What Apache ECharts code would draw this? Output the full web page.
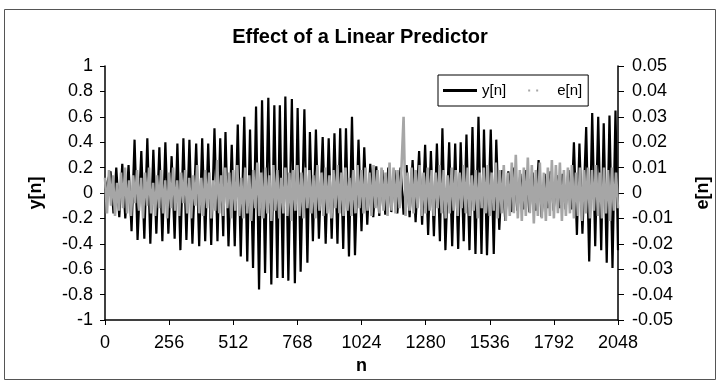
<!DOCTYPE html>
<html>
<head>
<meta charset="utf-8">
<script src="https://cdn.jsdelivr.net/npm/echarts@6/dist/echarts.min.js"></script>
<style>html,body{margin:0;background:#fff}#chart{width:720px;height:384px}</style>
</head>
<body>
<div id="chart"></div>
<script>
// y[n]: one positive peak per pitch period, trough half a period later
var yPeakN = [22, 45, 69, 94, 118, 145, 169, 193, 217, 241, 266, 289, 313, 337, 364, 388, 412, 437, 460, 481,
  506, 530, 556, 579, 603, 627, 652, 676, 698, 720, 746, 769, 796, 818, 842, 869, 893, 916, 939, 962,
  986, 1012, 1035, 1059, 1083, 1107, 1131, 1155, 1180, 1204, 1228, 1254, 1278, 1301, 1325, 1347, 1374, 1398, 1420, 1443,
  1467, 1491, 1513, 1540, 1562, 1586, 1610, 1634, 1658, 1682, 1707, 1731, 1755, 1779, 1803, 1827, 1850, 1872, 1894, 1921,
  1945, 1969, 1991, 2014, 2038];
var yPeakHi = [0.17, 0.20, 0.23, 0.22, 0.42, 0.33, 0.43, 0.34, 0.36, 0.40, 0.29, 0.39, 0.43, 0.42, 0.39, 0.43, 0.39, 0.51, 0.43, 0.48,
  0.38, 0.54, 0.60, 0.50, 0.68, 0.73, 0.75, 0.69, 0.69, 0.76, 0.74, 0.67, 0.66, 0.48, 0.50, 0.44, 0.43, 0.47, 0.51, 0.51,
  0.60, 0.42, 0.36, 0.23, 0.21, 0.18, 0.20, 0.18, 0.20, 0.22, 0.26, 0.33, 0.38, 0.33, 0.39, 0.51, 0.40, 0.39, 0.40, 0.46,
  0.52, 0.60, 0.50, 0.50, 0.42, 0.18, 0.17, 0.20, 0.15, 0.18, 0.16, 0.26, 0.15, 0.17, 0.14, 0.15, 0.18, 0.40, 0.39, 0.52,
  0.63, 0.60, 0.55, 0.61, 0.65];
var yPeakLo = [-0.16, -0.19, -0.20, -0.30, -0.37, -0.36, -0.40, -0.32, -0.38, -0.32, -0.36, -0.45, -0.37, -0.40, -0.42, -0.38, -0.41, -0.38, -0.34, -0.42,
  -0.42, -0.50, -0.54, -0.59, -0.76, -0.63, -0.72, -0.67, -0.67, -0.69, -0.71, -0.62, -0.55, -0.38, -0.36, -0.40, -0.36, -0.40, -0.44, -0.50,
  -0.49, -0.30, -0.25, -0.19, -0.18, -0.17, -0.15, -0.16, -0.17, -0.19, -0.23, -0.25, -0.33, -0.34, -0.38, -0.45, -0.42, -0.44, -0.38, -0.45,
  -0.48, -0.48, -0.49, -0.48, -0.29, -0.22, -0.15, -0.14, -0.13, -0.15, -0.14, -0.19, -0.12, -0.14, -0.12, -0.13, -0.13, -0.33, -0.32, -0.54,
  -0.42, -0.45, -0.55, -0.59, -0.45];

// e[n]: prediction error, one value every 8 samples
var eStep = 8;
var eVals = [
  0.006, -0.008, 0.009, -0.005, 0.007, -0.009, 0.004, -0.007, 0.008, -0.006, 0.010, -0.008, 0.005, -0.009, 0.007, -0.004,
  0.009, -0.007, 0.006, -0.010, 0.008, -0.005, 0.010, -0.008, 0.004, -0.009, 0.007, -0.006, 0.009, -0.008, 0.005, -0.010,
  0.008, -0.006, 0.010, -0.007, 0.005, -0.009, 0.008, -0.004, 0.009, -0.008, 0.006, -0.010, 0.007, -0.005, 0.011, -0.008,
  0.006, -0.009, 0.009, -0.006, 0.008, -0.010, 0.005, -0.007, 0.013, -0.008, 0.007, -0.009, 0.010, -0.006, 0.008, -0.010,
  0.009, -0.007, 0.011, -0.009, 0.006, -0.010, 0.010, -0.008, 0.007, -0.011, 0.009, -0.006, 0.012, -0.009, 0.008, -0.010,
  0.010, -0.008, 0.007, -0.011, 0.011, -0.007, 0.009, -0.010, 0.006, -0.008, 0.010, -0.009, 0.008, -0.011, 0.009, -0.007,
  0.011, -0.009, 0.008, -0.010, 0.010, -0.006, 0.009, -0.008, 0.007, -0.010, 0.011, -0.007, 0.008, -0.009, 0.010, -0.008,
  0.007, -0.010, 0.009, -0.006, 0.011, -0.008, 0.008, -0.009, 0.010, -0.007, 0.006, -0.009, 0.009, -0.008, 0.011, -0.006,
  0.009, -0.008, 0.010, -0.007, 0.008, -0.009, 0.011, -0.006, 0.009, -0.008, 0.010, -0.007, 0.008, -0.009, 0.012, -0.007,
  0.010, -0.008, 0.009, -0.006, 0.011, 0.030, -0.009, 0.008, -0.007, 0.010, -0.008, 0.009, -0.006, 0.011, -0.009, 0.008,
  -0.008, 0.010, -0.007, 0.009, -0.009, 0.008, -0.006, 0.011, -0.008, 0.009, -0.010, 0.007, -0.008, 0.010, -0.007, 0.009,
  -0.009, 0.008, -0.006, 0.011, -0.008, 0.010, -0.009, 0.007, -0.007, 0.009, -0.010, 0.008, -0.006, 0.010, -0.008, 0.011,
  -0.009, 0.008, -0.007, 0.012, -0.010, 0.009, -0.008, 0.011, -0.011, 0.008, -0.009, 0.012, -0.008, 0.015, -0.010, 0.009,
  -0.011, 0.010, -0.009, 0.014, -0.008, 0.011, -0.012, 0.009, -0.009, 0.012, -0.010, 0.008, -0.011, 0.010, -0.009, 0.013,
  -0.010, 0.011, -0.008, 0.012, -0.011, 0.009, -0.009, 0.010, -0.008, 0.011, -0.010, 0.008, -0.009, 0.010, -0.011, 0.009,
  -0.008, 0.010, -0.010, 0.009, -0.007, 0.011, -0.009, 0.008, -0.010, 0.010, -0.008, 0.009, -0.011, 0.010, -0.007, 0.008,
  -0.006
];

var yData = [[0, 0.02]];
for (var i = 0; i < yPeakN.length; i++) {
  yData.push([yPeakN[i], yPeakHi[i]]);
  yData.push([Math.min(yPeakN[i] + 12, 2048), yPeakLo[i]]);
}
var eData = eVals.map(function (v, i) { return [i * eStep, v]; });

var font = "'Liberation Sans', Arial, sans-serif";
var myChart = echarts.init(document.getElementById('chart'));
var option = {
  backgroundColor: '#fff',
  animation: false,
  title: {
    text: 'Effect of a Linear Predictor',
    left: 'center',
    top: 22,
    textStyle: { fontFamily: font, fontSize: 20, fontWeight: 'bold', color: '#000' }
  },
  legend: {
    orient: 'horizontal',
    left: 438,
    top: 75,
    itemWidth: 34,
    itemHeight: 3,
    itemGap: 12,
    padding: [8, 6, 8, 5],
    borderColor: '#000',
    borderWidth: 1,
    borderRadius: 0,
    backgroundColor: '#fff',
    textStyle: { fontFamily: font, fontSize: 15, color: '#000' },
    data: [
      { name: 'y[n]', icon: 'rect' },
      { name: 'e[n]', icon: 'path://M0,0h0.01v2h-0.01zM10,0h2v2h-2zM18,0h2v2h-2zM34,0h0.01v2h-0.01z' }
    ]
  },
  graphic: [{
    type: 'rect',
    shape: { x: 4.5, y: 9.5, width: 711, height: 370 },
    style: { fill: 'none', stroke: '#555', lineWidth: 1 },
    silent: true
  }],
  grid: { left: 105, right: 102, top: 66, bottom: 64 },
  xAxis: {
    type: 'value',
    min: 0,
    max: 2048,
    interval: 256,
    name: 'n',
    nameLocation: 'middle',
    nameGap: 35,
    nameTextStyle: { fontFamily: font, fontSize: 18, fontWeight: 'bold', color: '#000' },
    axisLine: { onZero: false, lineStyle: { color: '#000', width: 1.5 } },
    axisTick: { length: 5, lineStyle: { color: '#000' } },
    axisLabel: {
      margin: 14, fontFamily: font, fontSize: 18, color: '#000',
      formatter: function (v) { return String(v); }
    },
    splitLine: { show: false }
  },
  yAxis: [{
    type: 'value',
    min: -1,
    max: 1,
    interval: 0.2,
    name: 'y[n]',
    nameLocation: 'middle',
    nameGap: 60,
    nameTextStyle: { fontFamily: font, fontSize: 18, fontWeight: 'bold', color: '#000' },
    axisLine: { show: true, onZero: false, lineStyle: { color: '#000', width: 1.5 } },
    axisTick: { show: true, length: 5, lineStyle: { color: '#000' } },
    axisLabel: {
      margin: 12, fontFamily: font, fontSize: 18, color: '#000',
      formatter: function (v) { return String(Math.round(v * 10) / 10); }
    },
    splitLine: { show: false }
  }, {
    type: 'value',
    min: -0.05,
    max: 0.05,
    interval: 0.01,
    name: 'e[n]',
    nameLocation: 'middle',
    nameGap: 76,
    nameRotate: 90,
    nameTextStyle: { fontFamily: font, fontSize: 18, fontWeight: 'bold', color: '#000' },
    axisLine: { show: true, onZero: false, lineStyle: { color: '#000', width: 1.5 } },
    axisTick: { show: true, length: 6, lineStyle: { color: '#000' } },
    axisLabel: {
      margin: 14, fontFamily: font, fontSize: 18, color: '#000',
      formatter: function (v) { return Math.abs(v) < 1e-9 ? '0' : v.toFixed(2); }
    },
    splitLine: { show: false }
  }],
  series: [{
    name: 'y[n]',
    type: 'line',
    yAxisIndex: 0,
    symbol: 'none',
    z: 2,
    lineStyle: { color: '#000', width: 2.2 },
    itemStyle: { color: '#000' },
    data: yData
  }, {
    name: 'e[n]',
    type: 'line',
    yAxisIndex: 1,
    symbol: 'none',
    z: 3,
    lineStyle: { color: '#a6a6a6', width: 2.6, join: 'bevel' },
    itemStyle: { color: '#a6a6a6' },
    data: eData
  }]
};
myChart.setOption(option);
</script>
</body>
</html>
